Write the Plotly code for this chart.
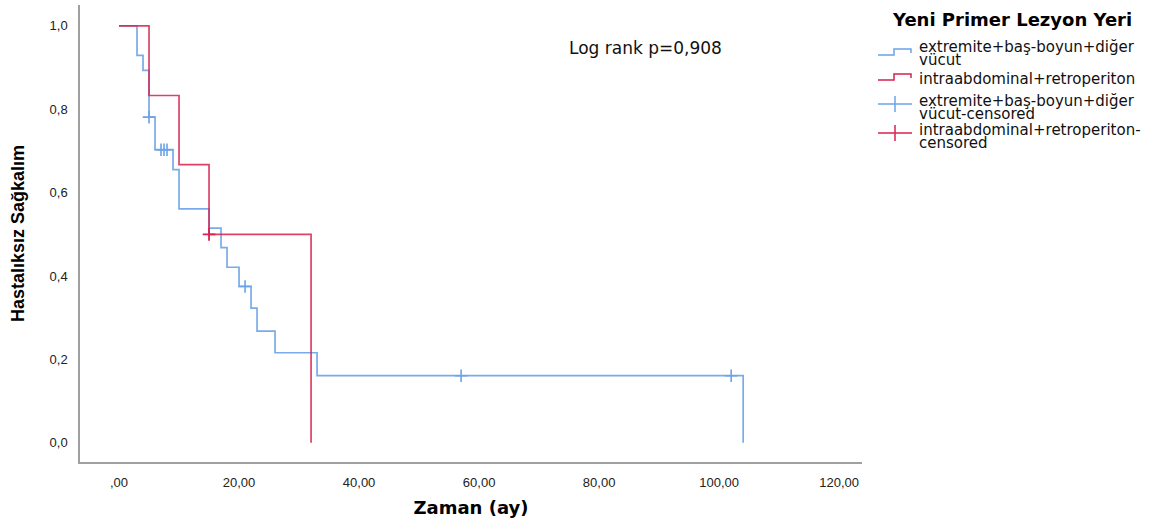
import plotly.graph_objects as go

# ---- data ----
blue_t = [0, 3, 4, 5, 6, 9, 10, 15, 17, 18, 20, 22, 23, 26, 33, 104]
blue_s = [1.0, 0.929, 0.893, 0.781, 0.703, 0.655, 0.561, 0.515, 0.468, 0.421, 0.375, 0.323, 0.268, 0.216, 0.161, 0.0]
blue_cens_t = [5, 7, 7.5, 8, 21, 57, 102]
blue_cens_s = [0.781, 0.703, 0.703, 0.703, 0.375, 0.161, 0.161]

red_t = [0, 5, 10, 15, 32]
red_s = [1.0, 0.833, 0.667, 0.5, 0.0]
red_cens_t = [15]
red_cens_s = [0.5]

x_ticks = [0, 20, 40, 60, 80, 100, 120]
x_ticktext = [",00", "20,00", "40,00", "60,00", "80,00", "100,00", "120,00"]
y_ticks = [0, 0.2, 0.4, 0.6, 0.8, 1.0]
y_ticktext = ["0,0", "0,2", "0,4", "0,6", "0,8", "1,0"]

legend_title = "Yeni Primer Lezyon Yeri"
legend_items = [
    ("step", "blue", ["extremite+baş-boyun+diğer", "vücut"]),
    ("step", "red", ["intraabdominal+retroperiton"]),
    ("cross", "blue", ["extremite+baş-boyun+diğer", "vücut-censored"]),
    ("cross", "red", ["intraabdominal+retroperiton-", "censored"]),
]

BLUE = "#6aa3e8"
RED = "#d8214e"
COLORS = {"blue": BLUE, "red": RED}
FONT = "DejaVu Sans"

W, H = 1155, 526
L, R, T, B = 80, 293, 5, 64
PW, PH = W - L - R, H - T - B


def px(x):
    return (x - L) / PW


def py(y):
    return (H - B - y) / PH


fig = go.Figure()
fig.add_trace(go.Scatter(x=blue_t, y=blue_s, mode="lines", line=dict(color=BLUE, width=1.7, shape="hv"),
                         opacity=0.9, showlegend=False, hoverinfo="skip"))
fig.add_trace(go.Scatter(x=red_t, y=red_s, mode="lines", line=dict(color=RED, width=1.7, shape="hv"),
                         opacity=0.85, showlegend=False, hoverinfo="skip"))
fig.add_trace(go.Scatter(x=blue_cens_t, y=blue_cens_s, mode="markers",
                         marker=dict(symbol="cross-thin", size=9, line=dict(color=BLUE, width=1.6)),
                         showlegend=False, hoverinfo="skip"))
fig.add_trace(go.Scatter(x=red_cens_t, y=red_cens_s, mode="markers",
                         marker=dict(symbol="cross-thin", size=9, line=dict(color=RED, width=1.8)),
                         showlegend=False, hoverinfo="skip"))

shapes = []
annotations = []

# Legend title
annotations.append(dict(x=px(1012), y=py(20), xref="paper", yref="paper", text="<b>" + legend_title + "</b>",
                        showarrow=False, xanchor="center", yanchor="middle",
                        font=dict(family=FONT, size=18, color="#000000")))

# (text block centre, symbol centre) in pixels
item_pos = [(53.5, 52), (78.5, 77), (107.5, 104), (136.5, 133)]
for (kind, col, lines), (tc, sc) in zip(legend_items, item_pos):
    c = COLORS[col]
    if kind == "step":
        path = (f"M {px(878)} {py(sc + 3)} L {px(894)} {py(sc + 3)} L {px(894)} {py(sc - 3)} "
                f"L {px(911)} {py(sc - 3)} L {px(911)} {py(sc + 1)}")
        shapes.append(dict(type="path", xref="paper", yref="paper", path=path,
                           line=dict(color=c, width=1.5)))
    else:
        shapes.append(dict(type="line", xref="paper", yref="paper", x0=px(878), x1=px(912), y0=py(sc), y1=py(sc),
                           line=dict(color=c, width=1.5)))
        shapes.append(dict(type="line", xref="paper", yref="paper", x0=px(895), x1=px(895), y0=py(sc - 8),
                           y1=py(sc + 8), line=dict(color=c, width=1.5)))
    txt = "<br>".join(f'<span style="font-size:15px">{t}</span>' for t in lines)
    annotations.append(dict(x=px(917), y=py(tc), xref="paper", yref="paper", text=txt,
                            showarrow=False, xanchor="left", yanchor="middle", align="left",
                            font=dict(family=FONT, size=10, color="#111111")))

# Log rank text
annotations.append(dict(x=px(645), y=py(48), xref="paper", yref="paper", text="Log rank p=0,908",
                        showarrow=False, xanchor="center", yanchor="middle",
                        font=dict(family=FONT, size=17, color="#111111")))

fig.update_layout(
    width=W, height=H,
    margin=dict(l=L, r=R, t=T, b=B),
    paper_bgcolor="white", plot_bgcolor="white",
    shapes=shapes, annotations=annotations,
    showlegend=False,
    xaxis=dict(range=[-6.5, 123.8], tickvals=x_ticks, ticktext=x_ticktext, showgrid=False, zeroline=False,
               showline=True, linecolor="#a0a0a0", linewidth=1.5, ticks="outside", ticklen=8,
               tickcolor="rgba(0,0,0,0)", tickfont=dict(family="Liberation Sans", size=13, color="#222222"),
               title=dict(text="<b>Zaman (ay)</b>", font=dict(family=FONT, size=18, color="#000000"),
                          standoff=12)),
    yaxis=dict(range=[-0.046, 1.050], tickvals=y_ticks, ticktext=y_ticktext, showgrid=False, zeroline=False,
               showline=True, linecolor="#a0a0a0", linewidth=1.5, ticks="outside", ticklen=8,
               tickcolor="rgba(0,0,0,0)", tickfont=dict(family="Liberation Sans", size=13, color="#222222"),
               title=dict(text="<b>Hastalıksız Sağkalım</b>", font=dict(family="Liberation Sans", size=18,
                                                                        color="#000000"), standoff=20)),
)

fig.write_html("out.html")
